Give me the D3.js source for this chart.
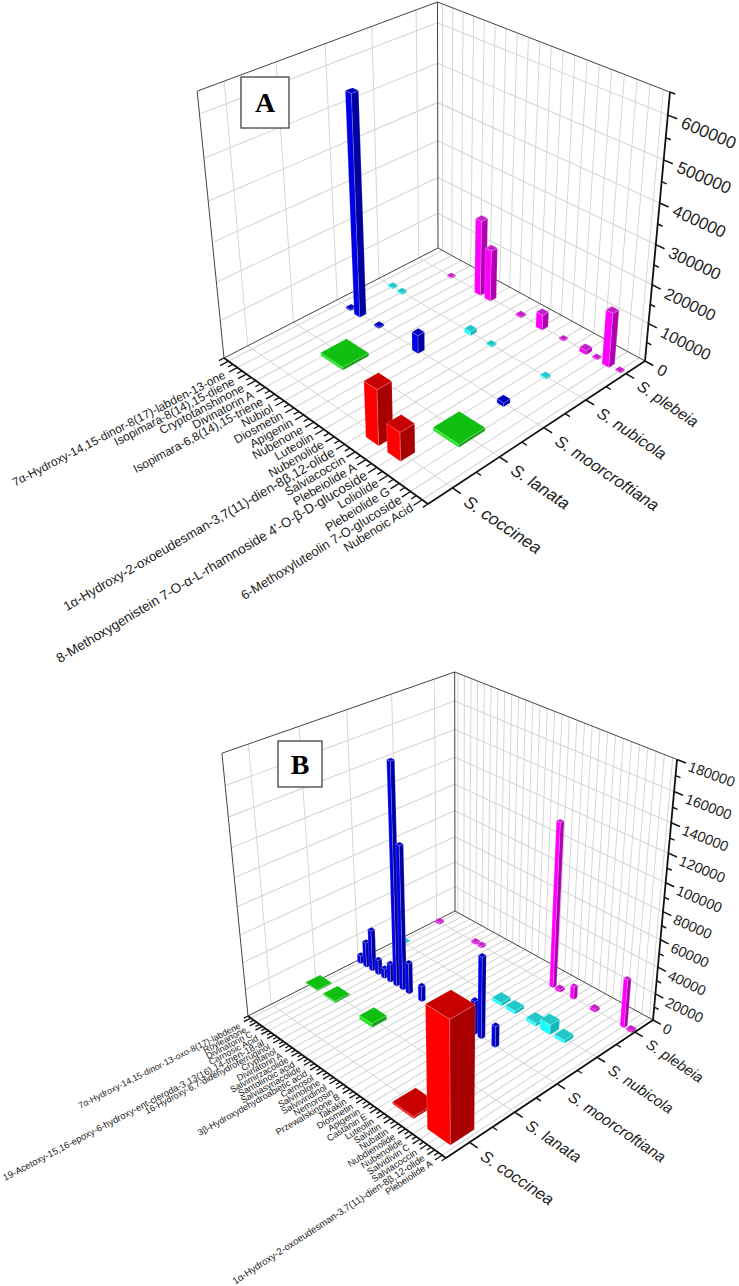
<!DOCTYPE html>
<html lang="en">
<head>
<meta charset="UTF-8">
<title>Salvia compounds 3D bars</title>
<script src="https://cdn.jsdelivr.net/npm/d3@7"></script>
<style>
  body, html { margin: 0; background: #fff; }
  svg { display: block; font-family: "Liberation Sans", Arial, sans-serif; }
</style>
</head>
<body>
<svg width="739" height="1286"></svg>
<script>
const species = ['S. coccinea', 'S. lanata', 'S. moorcroftiana', 'S. nubicola', 'S. plebeia'];

// panel A, the first tick of the axis has no label
const compoundsA = ['', '7α-Hydroxy-14,15-dinor-8(17)-labden-13-one', 'Isopimara-8(14),15-diene', 'Cryptotanshinone', 'Divinatorin A', 'Isopimara-6,8(14),15-triene', 'Nubiol', 'Diosmetin', 'Apigenin', 'Nubenone', 'Luteolin', 'Nubenolide', '1α-Hydroxy-2-oxoeudesman-3,7(11)-dien-8β,12-olide', 'Salviacoccin', 'Plebeiolide A', '8-Methoxygenistein 7-O-α-L-rhamnoside 4\'-O-β-D-glucoside', 'Loliolide', 'Plebeiolide G', '6-Methoxyluteolin 7-O-glucoside', 'Nubenoic Acid'];
const aCoccineaIdx = [14, 16];
const aCoccineaVal = [143000, 74000];
const aCoccineaFoot = [1.2, 1.2];
const aLanataIdx = [6, 17];
const aLanataVal = [8000, 8000];
const aLanataFoot = [2.3, 2.3];
const aMoorIdx = [2, 3, 5, 9, 17];
const aMoorVal = [4000, 569000, 4000, 49000, 10600];
const aMoorFoot = [.5, .6, .5, .6, .6];
const aNubicolaIdx = [2, 3, 10, 12, 17];
const aNubicolaVal = [4000, 4000, 11000, 4000, 4000];
const aNubicolaFoot = [.5, .5, .6, .5, .5];
const aPlebeiaIdx = [4, 7, 8, 11, 13, 15, 17, 18, 19, 20];
const aPlebeiaVal = [3000, 203000, 138000, 3000, 41000, 3000, 11000, 3000, 143000, 3000];
const aPlebeiaFoot = [.45, .6, .6, .55, .6, .45, .6, .45, .6, .45];

// panel B
const compoundsB = ['7α-Hydroxy-14,15-dinor-13-oxo-8(17)-labdene', 'Royleanone', 'Divinatorin C', 'Carnosic Acid', '19-Acetoxy-15,16-epoxy-6-hydroxy-ent-cleroda-3,13(16),14-trien-18-al', '16-Hydroxy-6,7-didehydroferruginol', 'Cryptanol', 'Divinatorin A', 'Salvimirzacolide', 'Santolinoic acid', 'Salviasyriacolide', '3β-Hydroxydehydroabietic acid', 'Carnosol', 'Salvinolone', 'Salviviridinol', 'Nemorosin', 'Przewalskinone B', 'Takakin', 'Diosmetin', 'Apigenin', 'Castanin E', 'Luteolin', 'Salvitin', 'Nubatin', 'Nubdienolide', 'Nubenolide', 'Salvidivin C', 'Salviacoccin', '1α-Hydroxy-2-oxoeudesman-3,7(11)-dien-8β,12-olide', 'Plebeiolide A'];
const bCoccineaIdx = [23, 28];
const bCoccineaVal = [1500, 85500];
const bCoccineaFoot = [3, 3.1];
const bLanataIdx = [1, 4, 10];
const bLanataVal = [800, 1200, 3000];
const bLanataFoot = [2, 2, 2];
const bMoorIdx = [1, 2, 3, 4, 5, 6, 7, 8, 9, 11, 19, 20, 22];
const bMoorVal = [6100, 19200, 31300, 11300, 7400, 13900, 160600, 106400, 23200, 11600, 25100, 60100, 15800];
const bMoorFoot = [.55, .55, .55, .55, .55, .55, .55, .55, .55, .55, .55, .55, .55];
const bNubicolaIdx = [1, 17, 19, 22, 24, 26];
const bNubicolaVal = [800, 2500, 2500, 2500, 7700, 2500];
const bNubicolaFoot = [1.4, 1.4, 1.4, 1.4, 1.4, 1.4];
const bPlebeiaIdx = [1, 7, 8, 19, 20, 22, 25, 29, 30];
const bPlebeiaVal = [1500, 1500, 1500, 121400, 2000, 9600, 2000, 36000, 1500];
const bPlebeiaFoot = [.75, .7, .7, .55, .75, .55, .75, .55, .75];

const faceColors = [
  {left: '#ff0000', right: '#a80000', top: '#c80000'},
  {left: '#22e622', right: '#12a012', top: '#10c010'},
  {left: '#0000e6', right: '#0000a0', top: '#0000c0'},
  {left: '#20ffff', right: '#10b8b8', top: '#20c8c8'},
  {left: '#ff00ff', right: '#b000b0', top: '#c820c8'}
];

function series(sp, idx, val, foot) {
  return idx.map((k, i) => ({sp, k, val: val[i], foot: foot[i]}));
}

const svg = d3.select('svg');

// square floor + height -> screen, through a perspective matrix fitted on the frame corners
function makeProjection(L, F, R, B, T, V) {
  const [x0, y0] = L, [x1, y1] = F, [x2, y2] = R, [x3, y3] = B;
  const dx1 = x1 - x2, dx2 = x3 - x2, sx = x0 - x1 + x2 - x3;
  const dy1 = y1 - y2, dy2 = y3 - y2, sy = y0 - y1 + y2 - y3;
  const det = dx1 * dy2 - dx2 * dy1;
  const g = (sx * dy2 - dx2 * sy) / det, h = (dx1 * sy - sx * dy1) / det;
  const a = x1 - x0 + g * x1, b = x3 - x0 + h * x3;
  const d = y1 - y0 + g * y1, e = y3 - y0 + h * y3;
  const k = (T[1] * (h + 1) - (e + y0)) / (V[1] - T[1]);
  return (u, v, t = 0) => {
    const w = g * u + h * v + 1 + k * t;
    return [(a * u + b * v + x0 + k * t * V[0]) / w, (d * u + e * v + y0 + k * t * V[1]) / w];
  };
}

function drawPanel(cfg) {
  const P = makeProjection(cfg.L, cfg.F, cfg.R, cfg.B, cfg.T, cfg.V);
  const uScale = d3.scaleBand().domain(cfg.compounds).range([0, 1]);
  const vScale = d3.scaleBand().domain(species).range([0, 1]);
  const zScale = d3.scaleLinear().domain([0, cfg.zMax]).range([0, 1]);
  const uMid = n => uScale(n) + uScale.bandwidth() / 2;
  const vMid = n => vScale(n) + vScale.bandwidth() / 2;
  const line = d3.line();
  const g = svg.append('g');
  const seg = (a, b, stroke, width) => g.append('path').attr('d', line([a, b])).attr('fill', 'none')
    .attr('stroke', stroke).attr('stroke-width', width);

  // grid
  const gridC = '#d6d6d6';
  const zMajor = d3.range(cfg.zStep, cfg.zMax + 1, cfg.zStep).filter(z => z < cfg.zMax);
  cfg.compounds.forEach(n => {
    seg(P(uMid(n), 0), P(uMid(n), 1), gridC, 1.1);
    seg(P(uMid(n), 1), P(uMid(n), 1, 1), gridC, 1);
  });
  species.forEach(n => {
    seg(P(0, vMid(n)), P(1, vMid(n)), gridC, 1);
    seg(P(0, vMid(n)), P(0, vMid(n), 1), gridC, 1);
  });
  zMajor.forEach(z => {
    const t = zScale(z);
    seg(P(0, 0, t), P(0, 1, t), gridC, 1.1);
    seg(P(0, 1, t), P(1, 1, t), gridC, 1.1);
  });

  // frame
  const frameC = '#444';
  g.append('path').attr('d', line([P(0, 0), P(0, 0, 1), P(0, 1, 1), P(1, 1, 1)])).attr('fill', 'none')
    .attr('stroke', frameC).attr('stroke-width', 1);
  g.append('path').attr('d', line([P(0, 0), P(0, 1), P(1, 1)])).attr('fill', 'none')
    .attr('stroke', frameC).attr('stroke-width', 1);
  seg(P(0, 1), P(0, 1, 1), frameC, 1);

  // bars, far ones first
  const bars = cfg.series.flat().map(d => {
    const foot = d.foot * uScale.bandwidth() / 2;
    return {d, u: uMid(cfg.compounds[d.k - 1]), v: vMid(species[d.sp]), t: zScale(d.val), foot};
  }).sort((p, q) => (p.u - p.v) - (q.u - q.v));
  bars.forEach(b => {
    const c = faceColors[b.d.sp];
    const u0 = b.u - b.foot, u1 = b.u + b.foot, v0 = b.v - b.foot, v1 = b.v + b.foot;
    const face = (pts, fill) => g.append('path').attr('d', line(pts) + 'Z').attr('fill', fill)
      .attr('stroke', '#fff').attr('stroke-opacity', .35).attr('stroke-width', .5).attr('stroke-linejoin', 'round');
    face([P(u0, v0), P(u1, v0), P(u1, v0, b.t), P(u0, v0, b.t)], c.left);
    face([P(u1, v0), P(u1, v1), P(u1, v1, b.t), P(u1, v0, b.t)], c.right);
    face([P(u0, v0, b.t), P(u1, v0, b.t), P(u1, v1, b.t), P(u0, v1, b.t)], c.top);
  });

  // compound axis
  const axisC = '#111';
  seg(P(0, 0), P(1, 0), axisC, 1.8);
  seg(P(1, 0), P(1, 1), axisC, 1.8);
  seg(P(1, 1), P(1, 1, 1), axisC, 1.8);
  d3.range(cfg.compounds.length + 1).forEach(i => {
    const u = i * uScale.step();
    seg(P(u, 0), P(u, -cfg.tickU / 1.7), axisC, 1.3);
  });
  const last = cfg.compounds.length - 1;
  const labelSize = d3.scaleLinear().domain([0, last]).range(cfg.labelSize);
  const labelAngle = d3.scaleLinear().domain([0, last]).range(cfg.labelAngle);
  const offX = d3.scaleLinear().domain([0, last]).range(cfg.labelDx);
  const offY = d3.scaleLinear().domain([0, last]).range(cfg.labelDy);
  cfg.compounds.forEach((n, i) => {
    seg(P(uMid(n), 0), P(uMid(n), -cfg.tickU), axisC, 1.3);
    if (!n) return;
    const [x, y] = P(uMid(n), 0);
    const lx = x + offX(i), ly = y + offY(i);
    g.append('text').attr('transform', `translate(${lx},${ly}) rotate(${-labelAngle(i)})`)
      .attr('text-anchor', 'end').attr('dominant-baseline', 'central')
      .attr('font-size', labelSize(i) * (cfg.labelBoost[i] || 1)).attr('fill', '#222').text(n);
  });

  // species axis
  const spSize = d3.scaleLinear().domain([0, 1]).range(cfg.speciesSize);
  species.forEach((n, i) => {
    const v = vMid(n);
    seg(P(1, v), P(1 + cfg.tickV, v), axisC, 1.5);
    if (i) seg(P(1, vScale(n)), P(1 + cfg.tickV / 1.7, vScale(n)), axisC, 1.3);
    const [x, y] = P(1 + cfg.tickV, v);
    g.append('text').attr('transform', `translate(${x + cfg.speciesDx},${y + cfg.speciesDy}) rotate(34)`)
      .attr('dominant-baseline', 'central').attr('font-style', 'italic')
      .attr('font-size', spSize(v)).attr('fill', '#222').text(n);
  });

  // height axis
  const zSize = d3.scaleLinear().domain([0, 1]).range(cfg.zSize);
  const zAngle = d3.scaleLinear().domain([0, 1]).range(cfg.zAngle);
  d3.range(0, cfg.zMax + 1, cfg.zStep / 2).forEach(z => {
    const t = zScale(z), major = z % cfg.zStep === 0;
    const end = P(1 + (major ? cfg.tickZ : cfg.tickZ / 1.8), 1, t);
    seg(P(1, 1, t), end, axisC, 1.5);
    if (major) {
      g.append('text').attr('transform', `translate(${end[0] + cfg.zDx},${end[1] + 3}) rotate(${zAngle(t)})`)
        .attr('dominant-baseline', 'central').attr('font-size', zSize(t)).attr('fill', '#222').text(z);
    }
  });

  // letter box
  const box = cfg.box;
  g.append('rect').attr('x', box[0]).attr('y', box[1]).attr('width', box[2] - box[0]).attr('height', box[3] - box[1])
    .attr('fill', '#fff').attr('stroke', '#333').attr('stroke-width', 1.2);
  g.append('text').attr('x', (box[0] + box[2]) / 2).attr('y', (box[1] + box[3]) / 2).attr('text-anchor', 'middle')
    .attr('dominant-baseline', 'central').attr('font-family', '"Liberation Serif", serif').attr('font-weight', 'bold')
    .attr('font-size', 28).attr('fill', '#000').text(cfg.letter);
}

drawPanel({
  letter: 'A', box: [241, 77, 289, 128],
  L: [224, 358], F: [428, 504], R: [645, 361], B: [438, 248], T: [437, 2], V: [443, 2537],
  compounds: compoundsA, zMax: 650000, zStep: 100000,
  tickU: .035, tickV: .035, tickZ: .035, zDx: 5,
  labelSize: [11.9, 12.4], labelAngle: [27, 32], labelDx: [-13, -10], labelDy: [6.5, 7],
  labelBoost: {12: 1.08, 15: 1.1, 18: 1.05},
  speciesSize: [17.5, 15.5], speciesDx: 5, speciesDy: 6,
  zSize: [16, 17.4], zAngle: [28, 22],
  series: [
    series(0, aCoccineaIdx, aCoccineaVal, aCoccineaFoot),
    series(1, aLanataIdx, aLanataVal, aLanataFoot),
    series(2, aMoorIdx, aMoorVal, aMoorFoot),
    series(3, aNubicolaIdx, aNubicolaVal, aNubicolaFoot),
    series(4, aPlebeiaIdx, aPlebeiaVal, aPlebeiaFoot)
  ]
});

drawPanel({
  letter: 'B', box: [278, 741, 322, 787],
  L: [248, 1016], F: [446, 1158], R: [653, 1020], B: [455, 911], T: [454, 672], V: [458, 3133],
  compounds: compoundsB, zMax: 180000, zStep: 20000,
  tickU: .03, tickV: .035, tickZ: .035, zDx: 3,
  labelSize: [8.8, 9.4], labelAngle: [26.7, 33.5], labelDx: [-11, -11], labelDy: [7, 7],
  labelBoost: {4: 1.06, 28: 1.03},
  speciesSize: [16.5, 14.5], speciesDx: 5, speciesDy: 6,
  zSize: [14.4, 14.5], zAngle: [27, 20],
  series: [
    series(0, bCoccineaIdx, bCoccineaVal, bCoccineaFoot),
    series(1, bLanataIdx, bLanataVal, bLanataFoot),
    series(2, bMoorIdx, bMoorVal, bMoorFoot),
    series(3, bNubicolaIdx, bNubicolaVal, bNubicolaFoot),
    series(4, bPlebeiaIdx, bPlebeiaVal, bPlebeiaFoot)
  ]
});
</script>
</body>
</html>
